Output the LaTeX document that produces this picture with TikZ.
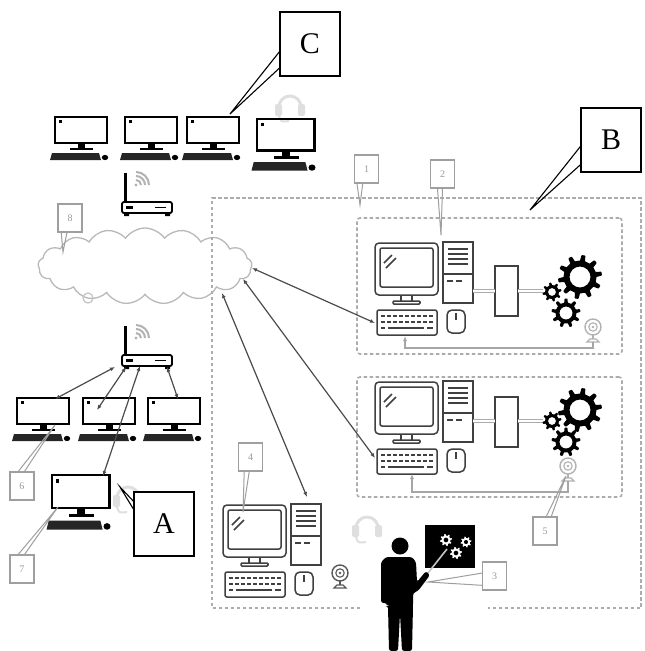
\documentclass[tikz,border=0pt]{standalone}
\usepackage{fontspec}
\setmainfont{Liberation Serif}
\usetikzlibrary{arrows.meta,shapes.symbols,calc}

% gear outline: teeth, root radius, tip radius, root arc, flank angle, hole radius
\newcommand{\cogpath}[6]{%
  (0:#2)
  \foreach \i [evaluate=\i as \n using (\i-1)*360/#1] in {1,...,#1}{%
    arc (\n:\n+#4:#2) {[rounded corners=0.6pt] -- (\n+#4+#5:#3)
    arc (\n+#4+#5:\n+360/#1-#5:#3)} -- (\n+360/#1:#2)
  }%
  (0,0) circle[radius=#6]
}

% flat monitor with keyboard and mouse
\newcommand{\flatmon}[2][]{%
  \begin{scope}[shift={#2},#1]
    \draw[line width=2.6pt] (0,0) rectangle (52,26);
    \fill (3.5,3) rectangle (6.5,6);
    \fill (23,26) rectangle (30,31);
    \fill (15,30.5) rectangle (38,33);
    \fill[black!85] (-3,36) -- (44,36) -- (46,43) -- (-5,43) -- cycle;
    \fill (50,40.5) ellipse [x radius=3.2, y radius=2.6];
  \end{scope}}

% outlined desktop workstation
\newcommand{\deskstation}[1]{%
  \begin{scope}[shift={#1}, line width=1.5pt, draw=black!75]
    \draw[rounded corners=4pt] (0,0) rectangle (63,52);
    \draw[rounded corners=2pt] (5,5) rectangle (58,44);
    \draw (9,20) -- (17,12) (11,25) -- (21,15);
    \draw (26,52) -- (26,58) (37,52) -- (37,58);
    \draw[rounded corners=1pt] (18,58) rectangle (45,61);
    \draw (68,-1) rectangle (98,60);
    \draw (73,6) -- (93,6) (73,11) -- (93,11) (73,16) -- (93,16) (73,21) -- (93,21);
    \draw (68,31) -- (98,31);
    \draw (72,38) -- (78,38) (81,38) -- (87,38);
    \draw[rounded corners=2pt] (2,67) rectangle (62,92);
    \foreach \r in {73,79} \draw[line width=1.2pt, dash pattern=on 4pt off 2pt] (6,\r) -- (58,\r);
    \draw[line width=1.2pt] (6,85) -- (10,85) (13,85) -- (49,85) (52,85) -- (58,85);
    \draw[rounded corners=5pt] (72,67) rectangle (90,90);
    \draw (81,70) -- (81,77);
  \end{scope}}

% wireless router with its signal waves
\newcommand{\wrouter}[1]{%
  \begin{scope}[shift={#1}]
    \draw[line width=3pt] (0,0) -- (0,29);
    \draw[line width=1.8pt, rounded corners=2pt] (-3,29) rectangle (47,40);
    \fill (1,32.5) rectangle (8,35.5);
    \draw[line width=1pt] (30,34) -- (41,34);
    \fill (-1,40) rectangle (4,43) (40,40) rectangle (45,43);
    \foreach \rr in {5,9,13} \draw[wifi] (11,12) ++(\rr,0) arc (0:-90:\rr);
    \fill[gray!60] (11,12) circle (1.6);
  \end{scope}}

% webcam on a small stand
\newcommand{\camicon}[2][]{%
  \begin{scope}[shift={#2},#1]
    \draw[line width=1.4pt] (0,0) circle (8);
    \draw[line width=1.1pt] (0,0) circle (4.2);
    \fill (0,0) circle (1.3);
    \draw[line width=1.4pt] (0,8) -- (0,12);
    \draw[line width=1.3pt] (-6,15) -- (-3,12) -- (3,12) -- (6,15) -- cycle;
  \end{scope}}

% headset
\newcommand{\headicon}[1]{%
  \begin{scope}[shift={#1}, gray!25]
    \draw[line width=3pt] (-11,6) arc (180:360:11);
    \fill[rounded corners=2pt] (-15,3) rectangle (-8,15) (8,3) rectangle (15,15);
    \draw[line width=2pt] (-11,15) .. controls (-9,21) .. (-1,20);
  \end{scope}}

\tikzset{
  bigcallout/.style={draw, line width=1.3pt, fill=white, minimum width=60pt,
    minimum height=64pt, inner sep=0pt, font=\fontsize{30}{30}\selectfont},
  tag/.style={draw=gray!75, line width=1.1pt, fill=white, minimum width=24pt,
    minimum height=28pt, inner sep=0pt, text=gray!80,
    font=\fontsize{10}{10}\selectfont},
  tagline/.style={draw=gray!75, line width=1pt},
  calloutline/.style={draw, line width=1.1pt},
  dashbox/.style={draw=gray!65, line width=1.6pt, dash pattern=on 3.5pt off 2.5pt},
  link/.style={draw=black!70, line width=1.2pt,
    {Latex[length=5pt,width=4pt]}-{Latex[length=5pt,width=4pt]}},
  feed/.style={draw=gray!70, line width=1.4pt, -{Latex[length=5pt,width=4pt]}},
  plug/.style={draw=gray!65, double=white, double distance=2.5pt, line width=1.2pt},
  wifi/.style={draw=gray!60, line width=2pt},
  cog/.style={fill=black, even odd rule}
}

\begin{document}
\begin{tikzpicture}[x=1pt, y=1pt, yscale=-1]
  \fill[white] (0,0) rectangle (645,651);
  \useasboundingbox (0,0) rectangle (645,651);

  % ---------- remote classroom (C) ----------
  \headicon{(290,101)}
  \flatmon{(55,117)}
  \flatmon{(125,117)}
  \flatmon{(187,117)}
  \flatmon[xscale=1.1, yscale=1.2]{(257,119)}
  \wrouter{(125,173)}

  \node[bigcallout] (C) at (310,44) {C};
  \coordinate (tipC) at (230,114);
  \draw[calloutline] ($(C.north west)!0.62!(C.south west)$) -- (tipC)
    -- ($(C.north west)!0.87!(C.south west)$);

  % ---------- network cloud ----------
  \node[cloud, draw=gray!55, line width=1.3pt, fill=white, cloud puffs=17,
    cloud puff arc=110, aspect=2.9, minimum width=214pt, minimum height=76pt,
    inner sep=0pt] (net) at (145,266) {};
  \draw[gray!45, line width=1.3pt] (88,298) circle (5);
  \coordinate (n1) at (252,268);
  \coordinate (n2) at (243,279);
  \coordinate (n3) at (222,293);
  \node[tag] (L8) at (70,218) {8};
  \coordinate (t8) at (63,252);
  \draw[tagline] ($(L8.south west)!0.15!(L8.south east)$) -- (t8)
    -- ($(L8.south west)!0.38!(L8.south east)$);

  % ---------- home learners (A) ----------
  \headicon{(128,492)}
  \wrouter{(125,326)}
  \flatmon{(17,398)}
  \flatmon{(83,398)}
  \flatmon{(148,398)}
  \flatmon[xscale=1.1, yscale=1.27]{(52,475)}

  \coordinate (r1) at (115,367);
  \coordinate (r2) at (126,367);
  \coordinate (r3) at (140,366);
  \coordinate (r4) at (167,367);
  \coordinate (h1) at (55,399);
  \coordinate (h2) at (97,410);
  \coordinate (h3) at (103,476);
  \coordinate (h4) at (178,399);
  \draw[link] (r1) -- (h1);
  \draw[link] (r2) -- (h2);
  \draw[link] (r3) -- (h3);
  \draw[link] (r4) -- (h4);

  \node[tag] (L6) at (22,486) {6};
  \coordinate (t6) at (55,425);
  \draw[tagline] ($(L6.north west)!0.35!(L6.north east)$) -- (t6)
    -- ($(L6.north west)!0.6!(L6.north east)$);
  \node[tag] (L7) at (22,569) {7};
  \coordinate (t7) at (58,507);
  \draw[tagline] ($(L7.north west)!0.35!(L7.north east)$) -- (t7)
    -- ($(L7.north west)!0.6!(L7.north east)$);

  \node[bigcallout] (A) at (164,524) {A};
  \coordinate (tipA) at (120,487);
  \draw[calloutline] ($(A.north west)!0.15!(A.south west)$) -- (tipA)
    -- ($(A.north west)!0.27!(A.south west)$);

  % ---------- laboratory (B) ----------
  \draw[dashbox] (360,608) -- (212,608) -- (212,198) -- (641,198) -- (641,608) -- (488,608);
  \node[dashbox, rounded corners=3pt, minimum width=265pt, minimum height=136pt,
    inner sep=0pt] (M1) at (489.5,286) {};
  \node[dashbox, rounded corners=3pt, minimum width=265pt, minimum height=120pt,
    inner sep=0pt] (M2) at (489.5,437) {};

  \node[tag] (L1) at (366.5,169) {1};
  \coordinate (t1) at (360,205);
  \draw[tagline] ($(L1.south west)!0.12!(L1.south east)$) -- (t1)
    -- ($(L1.south west)!0.35!(L1.south east)$);
  \node[tag] (L2) at (442.5,174) {2};
  \coordinate (t2) at (441,235);
  \draw[tagline] ($(L2.south west)!0.3!(L2.south east)$) -- (t2)
    -- ($(L2.south west)!0.5!(L2.south east)$);

  \node[bigcallout] (B) at (611,140) {B};
  \coordinate (tipB) at (530,210);
  \draw[calloutline] ($(B.north west)!0.6!(B.south west)$) -- (tipB)
    -- ($(B.north west)!0.88!(B.south west)$);

  % upper station
  \deskstation{(375,243)}
  \draw[line width=1.5pt, black!75] (495,266) rectangle (518,316);
  \draw[plug] (473,291) -- (495,291);
  \draw[plug] (518,291) -- (543,291);
  \fill[cog, shift={(580,277)}] \cogpath{10}{16.5}{22}{18}{4}{10.5};
  \fill[cog, shift={(552,292)}] \cogpath{8}{7}{9.5}{22.5}{5}{4};
  \fill[cog, shift={(566,313)}] \cogpath{9}{10.5}{14.5}{20}{4.5}{6.5};
  \camicon[gray!60]{(593,327)}
  \coordinate (cam1) at (593,342);
  \coordinate (kb1b) at (405,336);
  \draw[feed] (cam1) |- (405,348) -- (kb1b);

  % lower station
  \deskstation{(375,382)}
  \draw[line width=1.5pt, black!75] (495,397) rectangle (518,447);
  \draw[plug] (473,421) -- (495,421);
  \draw[plug] (518,421) -- (543,421);
  \fill[cog, shift={(580,410)}] \cogpath{10}{16.5}{22}{18}{4}{10.5};
  \fill[cog, shift={(552,421)}] \cogpath{8}{7}{9.5}{22.5}{5}{4};
  \fill[cog, shift={(566,442)}] \cogpath{9}{10.5}{14.5}{20}{4.5}{6.5};
  \camicon[gray!60]{(568,466)}
  \coordinate (cam2) at (568,481);
  \coordinate (kb2b) at (412,474);
  \draw[feed] (cam2) |- (412,492) -- (kb2b);
  \node[tag] (L5) at (545,531) {5};
  \coordinate (t5) at (566,476);
  \draw[tagline] ($(L5.north west)!0.55!(L5.north east)$) -- (t5)
    -- ($(L5.north west)!0.75!(L5.north east)$);

  % teacher workstation
  \headicon{(367,522)}
  \deskstation{(223,505)}
  \camicon[black!65]{(340,573)}
  \node[tag] (L4) at (250.5,457) {4};
  \coordinate (t4) at (243,512);
  \draw[tagline] ($(L4.south west)!0.25!(L4.south east)$) -- (t4)
    -- ($(L4.south west)!0.45!(L4.south east)$);

  % links between the cloud and the stations
  \coordinate (kb1) at (375,323);
  \coordinate (kb2) at (375,458);
  \coordinate (tw4) at (307,497);
  \draw[link] (n1) -- (kb1);
  \draw[link] (n2) -- (kb2);
  \draw[link] (n3) -- (tw4);

  % teacher at the board
  \fill (425,525) rectangle (475,568);
  \fill[white, even odd rule, shift={(446,540)}] \cogpath{8}{4.5}{6.2}{22.5}{5}{2.5};
  \fill[white, even odd rule, shift={(466,542)}] \cogpath{8}{4}{5.6}{22.5}{5}{2.2};
  \fill[white, even odd rule, shift={(456,553)}] \cogpath{8}{4.5}{6.2}{22.5}{5}{2.5};
  \draw[gray!45, line width=1.6pt] (428,573) -- (447,549);
  \fill (400,546) circle (8.5);
  \fill[rounded corners=2.5pt]
    (381,562) -- (386,557) -- (412,557) -- (416,562) -- (417,582)
    -- (426,571) -- (430,575) -- (418,591) -- (413,593)
    -- (413,606) -- (412,651) -- (402,651) -- (400,614) -- (398,651)
    -- (389,651) -- (388,606) -- (387,606) -- (387,603) -- (381,603) -- cycle;
  \node[tag] (L3) at (494.5,576) {3};
  \coordinate (t3) at (428,582);
  \draw[tagline] ($(L3.north west)!0.4!(L3.south west)$) -- (t3)
    -- ($(L3.north west)!0.82!(L3.south west)$);
\end{tikzpicture}
\end{document}
